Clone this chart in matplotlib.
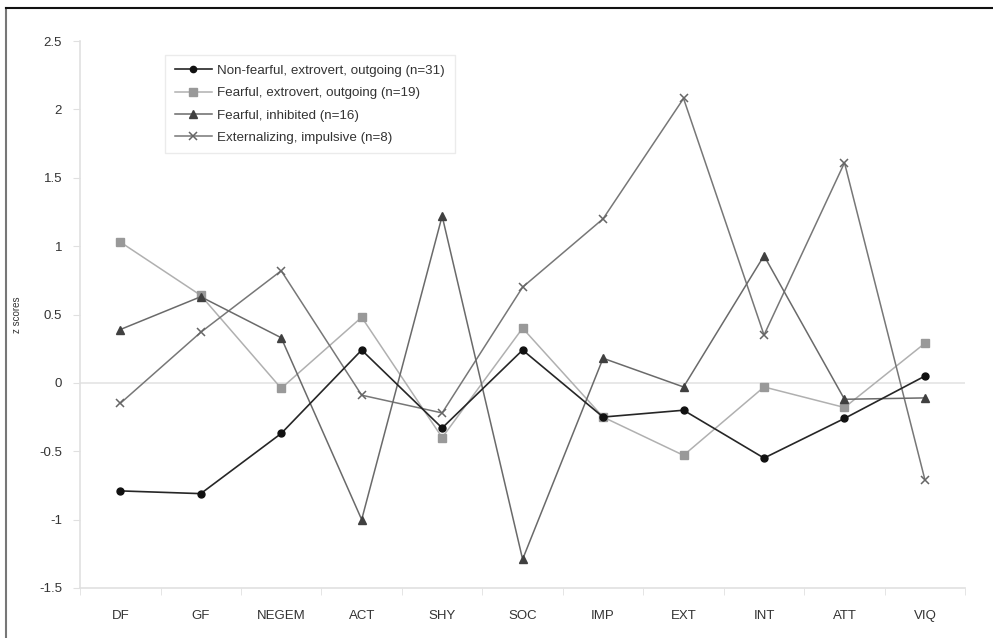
import matplotlib
matplotlib.use("Agg")
import matplotlib.pyplot as plt
from matplotlib.lines import Line2D

plt.rcParams['font.family'] = ['Liberation Sans', 'DejaVu Sans']

# --- Data (z scores per scale) ---
scales = ['DF', 'GF', 'NEGEM', 'ACT', 'SHY', 'SOC', 'IMP', 'EXT', 'INT', 'ATT', 'VIQ']

non_fearful = [-0.79, -0.81, -0.37, 0.24, -0.33, 0.24, -0.25, -0.20, -0.55, -0.26, 0.05]
fearful_extro = [1.03, 0.64, -0.04, 0.48, -0.40, 0.40, -0.25, -0.53, -0.03, -0.18, 0.29]
fearful_inhib = [0.39, 0.63, 0.33, -1.00, 1.22, -1.29, 0.18, -0.03, 0.93, -0.12, -0.11]
externalizing = [-0.15, 0.37, 0.82, -0.09, -0.22, 0.70, 1.20, 2.08, 0.35, 1.61, -0.71]

labels = ['Non-fearful, extrovert, outgoing (n=31)',
          'Fearful, extrovert, outgoing (n=19)',
          'Fearful, inhibited (n=16)',
          'Externalizing, impulsive (n=8)']

yticks = [-1.5, -1, -0.5, 0, 0.5, 1, 1.5, 2, 2.5]
ytick_labels = ['-1.5', '-1', '-0.5', '0', '0.5', '1', '1.5', '2', '2.5']

# --- Figure ---
fig = plt.figure(figsize=(9.93, 6.38), dpi=100)
ax = fig.add_axes([0.0806, 0.0784, 0.8914, 0.8573])

x = list(range(len(scales)))
ax.axhline(0, color='#e4e4e4', lw=1.2, zorder=1)

ax.plot(x, fearful_extro, color='#b0b0b0', lw=1.1, marker='s', ms=6,
        mfc='#999999', mec='#999999', label=labels[1], zorder=3)
ax.plot(x, externalizing, color='#777777', lw=1.1, marker='x', ms=6,
        mew=1.1, mec='#666666', label=labels[3], zorder=4)
ax.plot(x, fearful_inhib, color='#6a6a6a', lw=1.1, marker='^', ms=6,
        mfc='#404040', mec='#404040', label=labels[2], zorder=5)
ax.plot(x, non_fearful, color='#262626', lw=1.2, marker='o', ms=5,
        mfc='#111111', mec='#111111', label=labels[0], zorder=6)

ax.set_xlim(-0.5, len(scales) - 0.5)
ax.set_ylim(-1.5, 2.5)
ax.set_yticks(yticks)
ax.set_yticklabels(ytick_labels)
ax.set_xticks(x)
ax.set_xticklabels(scales)
ax.set_xticks([i - 0.5 for i in range(len(scales) + 1)], minor=True)

for side in ['top', 'right']:
    ax.spines[side].set_visible(False)
for side in ['left', 'bottom']:
    ax.spines[side].set_color('#e0e0e0')
    ax.spines[side].set_linewidth(1.2)

ax.tick_params(axis='y', colors='#e0e0e0', labelcolor='#333333',
               labelsize=9.5, length=5, direction='out', pad=8)
ax.tick_params(axis='x', which='major', length=0, labelcolor='#333333',
               labelsize=9.5, pad=16)
ax.tick_params(axis='x', which='minor', colors='#e0e0e0', length=5,
               direction='out')

ax.set_ylabel('z scores', fontsize=7, color='#333333', labelpad=12)

# legend in the original order
handles, hl = ax.get_legend_handles_labels()
order = [hl.index(l) for l in labels]
leg = ax.legend([handles[i] for i in order], [hl[i] for i in order],
                loc='upper left', bbox_to_anchor=(0.089, 0.986),
                fontsize=9.6, frameon=True, fancybox=False,
                edgecolor='#e6e6e6', borderpad=0.7, labelspacing=0.75,
                handlelength=2.8, handletextpad=0.4, markerscale=0.9)
for t in leg.get_texts():
    t.set_color('#333333')

# outer frame of the picture (left and top)
fig.add_artist(Line2D([0.0065, 0.0065], [0.0, 0.988], transform=fig.transFigure,
                      color='#777777', lw=1.5))
fig.add_artist(Line2D([0.0065, 1.0], [0.988, 0.988], transform=fig.transFigure,
                      color='#111111', lw=1.5))

fig.savefig('out.png', dpi=100)
